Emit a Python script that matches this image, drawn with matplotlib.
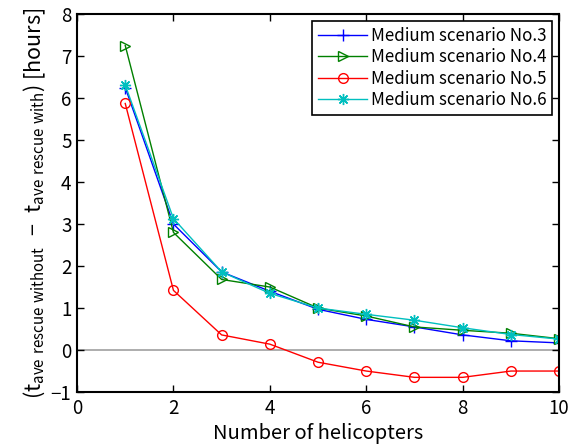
import numpy as np
import matplotlib
matplotlib.use("Agg")
import matplotlib.pyplot as plt

plt.rcParams["font.family"] = ["Noto Sans CJK JP", "DejaVu Sans"]
plt.rcParams["mathtext.default"] = "regular"

helicopters = [1, 2, 3, 4, 5, 6, 7, 8, 9, 10]
scenario3 = [6.25, 3.0, 1.86, 1.40, 0.97, 0.73, 0.55, 0.36, 0.22, 0.17]
scenario4 = [7.25, 2.80, 1.68, 1.50, 1.00, 0.81, 0.55, 0.47, 0.40, 0.27]
scenario5 = [5.87, 1.42, 0.36, 0.14, -0.29, -0.50, -0.65, -0.65, -0.50, -0.50]
scenario6 = [6.31, 3.13, 1.86, 1.35, 1.00, 0.85, 0.71, 0.53, 0.37, 0.26]
labels = ["Medium scenario No.3", "Medium scenario No.4",
          "Medium scenario No.5", "Medium scenario No.6"]

fig = plt.figure(figsize=(5.77, 4.45), dpi=100)
ax = fig.add_axes([0.1335, 0.119, 0.8355, 0.8495])

ax.axhline(0, color="#a0a0a0", lw=1.2, zorder=1)
ax.plot(helicopters, scenario3, color=(0, 0, 1), marker="+", ms=8, mew=1, lw=1,
        label=labels[0])
ax.plot(helicopters, scenario4, color=(0, 0.5, 0), marker=">", ms=7, mfc="none",
        mew=1, lw=1, label=labels[1])
ax.plot(helicopters, scenario5, color=(1, 0, 0), marker="o", ms=7, mfc="none",
        mew=1, lw=1, label=labels[2])
ax.plot(helicopters, scenario6, color=(0, 0.75, 0.75), marker=(8, 2, 0), ms=8,
        mew=1, lw=1, label=labels[3])

ax.set_xlim(0, 10)
ax.set_ylim(-1, 8)
ax.set_xticks([0, 2, 4, 6, 8, 10])
ax.set_yticks(range(-1, 9))
ax.tick_params(direction="in", top=True, right=True, length=5, width=1,
               labelsize=13.5, pad=4)
for s in ax.spines.values():
    s.set_linewidth(1.5)

ax.set_xlabel("Number of helicopters", fontsize=14.5, labelpad=3)
ax.set_ylabel(r"$(t_{ave\ rescue\ without}\ -\ t_{ave\ rescue\ with})$ [hours]",
              fontsize=15.5, labelpad=2)

leg = ax.legend(loc="upper right", fontsize=12.2, fancybox=False, framealpha=1,
                edgecolor="black", borderpad=0.35, labelspacing=0.2,
                handlelength=2.9, handletextpad=0.2, borderaxespad=0.4)
leg.get_frame().set_linewidth(1.2)

fig.savefig("out.png", dpi=100)
